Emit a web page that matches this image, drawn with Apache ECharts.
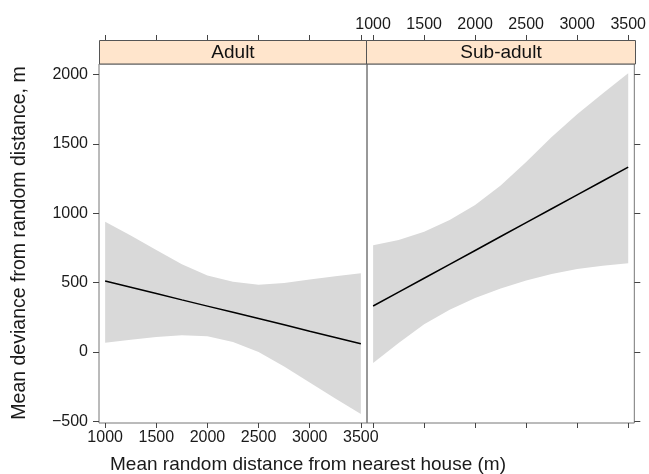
<!DOCTYPE html>
<html>
<head>
<meta charset="utf-8">
<script src="https://cdn.jsdelivr.net/npm/echarts@6/dist/echarts.min.js"></script>
<style>
  html, body { margin: 0; padding: 0; background: #fff; }
  #chart { width: 649px; height: 474px; }
</style>
</head>
<body>
<div id="chart"></div>
<script>
// distance grid (m) the fits were read at
var dist = [1000, 1250, 1500, 1750, 2000, 2250, 2500, 2750, 3000, 3250, 3500];

// Adult panel
var adultFit   = [512, 467, 422, 376, 331, 286, 241, 196, 150, 105, 60];
var adultUpper = [940, 840, 736, 632, 552, 506, 485, 498, 522, 546, 568];
var adultLower = [67, 88, 108, 120, 113, 72, 0, -105, -220, -335, -447];

// Sub-adult panel
var subFit   = [332, 432, 532, 632, 732, 833, 933, 1033, 1133, 1233, 1333];
var subUpper = [770, 808, 868, 952, 1060, 1200, 1370, 1550, 1715, 1865, 2010];
var subLower = [-80, 65, 200, 305, 390, 458, 515, 562, 598, 622, 640];

var xTicks = [1000, 1500, 2000, 2500, 3000, 3500];
var yTicks = [-500, 0, 500, 1000, 1500, 2000];
var panels = ['Adult', 'Sub-adult'];

var myChart = echarts.init(document.getElementById('chart'));

var font = 'Liberation Sans, Arial, sans-serif';
var bandColor = '#d9d9d9';
var tickColor = '#444';

function pairs(xs, ys) {
  return xs.map(function (x, i) { return [x, ys[i]]; });
}

function xAx(grid, pos, labels) {
  return {
    type: 'value', gridIndex: grid, position: pos,
    offset: pos == 'top' ? 24 : 0,
    min: 940, max: 3560,
    axisLine: { show: false, onZero: false },
    splitLine: { show: false },
    axisTick: { show: true, inside: false, length: 5, customValues: xTicks,
      lineStyle: { color: tickColor, width: 1 } },
    axisLabel: { show: labels, customValues: xTicks, margin: 7,
      fontFamily: font, fontSize: 16, color: '#1a1a1a',
      formatter: function (v) { return '' + v; } }
  };
}
function yAx(grid, pos, labels) {
  return {
    type: 'value', gridIndex: grid, position: pos,
    min: -512, max: 2077,
    axisLine: { show: false, onZero: false },
    splitLine: { show: false },
    axisTick: { show: true, inside: false, length: 6, customValues: yTicks,
      lineStyle: { color: tickColor, width: 1 } },
    axisLabel: { show: labels, customValues: yTicks, margin: 11,
      fontFamily: font, fontSize: 16, color: '#1a1a1a',
      formatter: function (v) { return v < 0 ? '\u2212' + Math.abs(v) : '' + v; } }
  };
}

// confidence band as one polygon: upper edge left->right, lower edge back
function band(idx, lo, up) {
  return {
    type: 'custom', xAxisIndex: idx * 2, yAxisIndex: idx,
    silent: true, z: 1,
    data: dist.map(function (x, i) { return [x, lo[i], up[i]]; }),
    encode: { x: 0, y: [1, 2] },
    renderItem: function (params, api) {
      if (params.dataIndex !== 0) return null;
      var pts = [];
      for (var i = 0; i < dist.length; i++) pts.push(api.coord([dist[i], up[i]]));
      for (var j = dist.length - 1; j >= 0; j--) pts.push(api.coord([dist[j], lo[j]]));
      return {
        type: 'polygon',
        shape: { points: pts },
        style: { fill: bandColor, stroke: null }
      };
    }
  };
}
function fitLine(idx, ys) {
  return {
    type: 'line', xAxisIndex: idx * 2, yAxisIndex: idx,
    symbol: 'none', silent: true, z: 5,
    lineStyle: { color: '#000', width: 1.5 },
    data: pairs(dist, ys)
  };
}

var option = {
  animation: false,
  backgroundColor: '#fff',
  grid: [
    { left: 99, top: 64, width: 268, height: 359, show: true,
      borderColor: '#777', borderWidth: 1 },
    { left: 367, top: 64, width: 269, height: 359, show: true,
      borderColor: '#777', borderWidth: 1 }
  ],
  xAxis: [
    xAx(0, 'bottom', true),
    xAx(0, 'top', false),
    xAx(1, 'bottom', false),
    xAx(1, 'top', true)
  ],
  yAxis: [
    yAx(0, 'left', true),
    yAx(1, 'right', false)
  ],
  series: [
    band(0, adultLower, adultUpper),
    band(1, subLower, subUpper),
    fitLine(0, adultFit),
    fitLine(1, subFit)
  ],
  graphic: [
    // strips
    { type: 'rect', shape: { x: 99.5, y: 40.5, width: 267, height: 23.5 },
      style: { fill: '#ffe5cc', stroke: '#555', lineWidth: 1 } },
    { type: 'rect', shape: { x: 366.5, y: 40.5, width: 269, height: 23.5 },
      style: { fill: '#ffe5cc', stroke: '#555', lineWidth: 1 } },
    { type: 'text', x: 233, y: 52.5,
      style: { text: panels[0], font: '19px ' + font, fill: '#111',
        textAlign: 'center', textVerticalAlign: 'middle' } },
    { type: 'text', x: 501, y: 52.5,
      style: { text: panels[1], font: '19px ' + font, fill: '#111',
        textAlign: 'center', textVerticalAlign: 'middle' } },
    // axis titles
    { type: 'text', x: 308, y: 465,
      style: { text: 'Mean random distance from nearest house (m)',
        font: '19px ' + font, fill: '#1a1a1a',
        textAlign: 'center', textVerticalAlign: 'middle' } },
    { type: 'text', x: 20, y: 243, rotation: Math.PI / 2,
      style: { text: 'Mean deviance from random distance, m',
        font: '19.5px ' + font, fill: '#1a1a1a',
        textAlign: 'center', textVerticalAlign: 'middle' } }
  ]
};

myChart.setOption(option);
</script>
</body>
</html>
